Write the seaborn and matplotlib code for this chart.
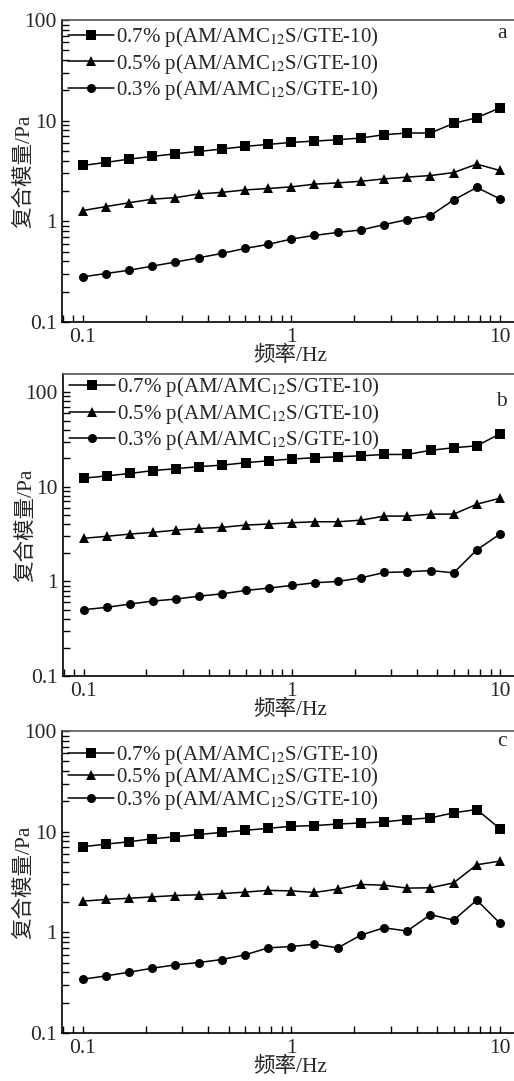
import numpy as np
import pandas as pd
import matplotlib
matplotlib.use("Agg")
import matplotlib.pyplot as plt
from matplotlib.ticker import LogLocator, FuncFormatter, NullFormatter
import seaborn as sns

# Frequency sweep (Hz): 19 points, 9 per decade
freq = [0.1, 0.129, 0.167, 0.215, 0.278, 0.359, 0.464, 0.599, 0.774, 1.0,
        1.29, 1.67, 2.15, 2.78, 3.59, 4.64, 5.99, 7.74, 10.0]

series_labels = ["0.7% p(AM/AMC$_{12}$S/GTE-10)",
                 "0.5% p(AM/AMC$_{12}$S/GTE-10)",
                 "0.3% p(AM/AMC$_{12}$S/GTE-10)"]

# Complex modulus (Pa), panel a
a_07 = [3.59, 3.85, 4.15, 4.41, 4.69, 4.95, 5.22, 5.55, 5.81, 6.08,
        6.27, 6.47, 6.72, 7.25, 7.54, 7.54, 9.40, 10.7, 13.4]
a_05 = [1.28, 1.40, 1.53, 1.66, 1.72, 1.87, 1.94, 2.05, 2.12, 2.20,
        2.34, 2.41, 2.50, 2.64, 2.75, 2.85, 3.05, 3.70, 3.20]
a_03 = [0.281, 0.303, 0.327, 0.359, 0.394, 0.434, 0.480, 0.538, 0.590, 0.667,
        0.725, 0.776, 0.820, 0.927, 1.04, 1.14, 1.63, 2.17, 1.67]

# Panel b
b_07 = [12.3, 13.0, 13.8, 14.8, 15.5, 16.3, 16.9, 17.9, 18.8, 19.6,
        20.2, 20.7, 21.2, 21.9, 21.9, 24.2, 25.8, 27.0, 36.2]
b_05 = [2.85, 2.99, 3.16, 3.29, 3.48, 3.62, 3.72, 3.93, 4.03, 4.16,
        4.26, 4.26, 4.43, 4.89, 4.89, 5.13, 5.13, 6.53, 7.56]
b_03 = [0.502, 0.531, 0.576, 0.619, 0.650, 0.698, 0.739, 0.801, 0.848, 0.906,
        0.966, 0.998, 1.09, 1.24, 1.26, 1.30, 1.23, 2.15, 3.16]

# Panel c
c_07 = [7.08, 7.52, 7.94, 8.50, 8.90, 9.38, 9.82, 10.3, 10.8, 11.3,
        11.5, 11.9, 12.2, 12.5, 13.2, 13.7, 15.4, 16.6, 10.7]
c_05 = [2.04, 2.12, 2.18, 2.25, 2.32, 2.36, 2.42, 2.51, 2.61, 2.58,
        2.49, 2.69, 2.99, 2.94, 2.75, 2.77, 3.10, 4.69, 5.10]
c_03 = [0.342, 0.369, 0.402, 0.440, 0.475, 0.501, 0.537, 0.597, 0.701, 0.723,
        0.762, 0.701, 0.937, 1.11, 1.03, 1.50, 1.32, 2.09, 1.23]

panel_letters = ["a", "b", "c"]
x_label = "频率/Hz"
y_label = "复合模量/Pa"

sns.set_theme(style="ticks")
plt.rcParams["font.family"] = ["Liberation Serif", "Noto Sans CJK SC"]
plt.rcParams["mathtext.fontset"] = "stix"
plt.rcParams["axes.unicode_minus"] = False

W, H = 514, 1081
fig = plt.figure(figsize=(W / 100, H / 100), dpi=100)


def frame(left, top, bottom, right=518):
    return [left / W, 1 - bottom / H, (right - left) / W, (bottom - top) / H]


panels = [
    dict(rect=frame(62, 20, 322), data=(a_07, a_05, a_03), ylim=(0.1, 100),
         spacing=0.12, anchor_y=1.024, letter_y=0.955),
    dict(rect=frame(63, 374, 676), data=(b_07, b_05, b_03), ylim=(0.1, 155),
         spacing=0.12, anchor_y=1.037, letter_y=0.91),
    dict(rect=frame(62, 731, 1033), data=(c_07, c_05, c_03), ylim=(0.1, 100),
         spacing=-0.07, anchor_y=1.002, letter_y=0.965),
]

markers = {series_labels[0]: "s", series_labels[1]: "^", series_labels[2]: "o"}
palette = {lab: "black" for lab in series_labels}

for p, letter in zip(panels, panel_letters):
    ax = fig.add_axes(p["rect"])
    frames = []
    for lab, vals in zip(series_labels, p["data"]):
        frames.append(pd.DataFrame({"freq": freq, "modulus": vals, "series": lab}))
    df = pd.concat(frames, ignore_index=True)

    sns.lineplot(data=df, x="freq", y="modulus", hue="series", style="series",
                 hue_order=series_labels, style_order=series_labels,
                 palette=palette, markers=markers, dashes=False,
                 markersize=6.5, linewidth=1.1, markeredgewidth=0,
                 ax=ax, legend=True)

    ax.set_xscale("log")
    ax.set_yscale("log")
    ax.set_xlim(0.0795, 12.2)
    ax.set_ylim(*p["ylim"])

    fmt = FuncFormatter(lambda v, pos: f"{v:g}")
    ax.xaxis.set_major_locator(LogLocator(base=10, numticks=10))
    ax.yaxis.set_major_locator(LogLocator(base=10, numticks=10))
    ax.xaxis.set_minor_locator(LogLocator(base=10, subs=np.arange(2, 10), numticks=20))
    ax.yaxis.set_minor_locator(LogLocator(base=10, subs=np.arange(2, 10), numticks=20))
    ax.xaxis.set_major_formatter(fmt)
    ax.yaxis.set_major_formatter(fmt)
    ax.xaxis.set_minor_formatter(NullFormatter())
    ax.yaxis.set_minor_formatter(NullFormatter())

    ax.tick_params(which="both", direction="in", length=5, width=1.0,
                   color="black", top=False, right=False)
    ax.tick_params(which="major", labelsize=15.5, pad=4)

    for side in ("left", "bottom"):
        ax.spines[side].set_color("black")
        ax.spines[side].set_linewidth(1.2)
    ax.spines["top"].set_color("#555555")
    ax.spines["top"].set_linewidth(1.2)
    ax.spines["right"].set_visible(False)

    ax.set_xlabel(x_label, fontsize=15.5, va="center")
    ax.xaxis.set_label_coords(0.5, -0.113)
    ax.set_ylabel(y_label, fontsize=15.5, va="center")
    ax.yaxis.set_label_coords(-0.082, 0.5)

    leg = ax.legend(loc="upper left", bbox_to_anchor=(-0.014, p["anchor_y"]),
                    frameon=False, fontsize=15, handlelength=2.2,
                    handletextpad=0.12, labelspacing=p["spacing"],
                    borderaxespad=0.2, markerscale=1.0)
    for h in leg.legend_handles:
        h.set_color("black")

    ax.text(0.975, p["letter_y"], letter, transform=ax.transAxes,
            ha="right", va="center", fontsize=15.5)

fig.savefig("out.png", dpi=100)
